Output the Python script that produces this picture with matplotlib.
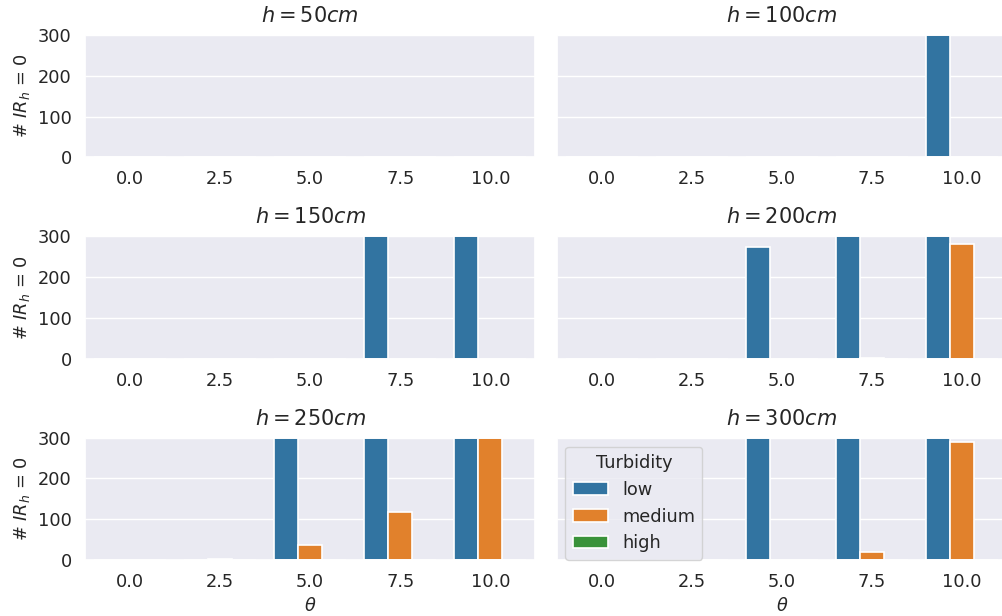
import matplotlib
matplotlib.use("Agg")
import matplotlib.pyplot as plt
import seaborn as sns
import pandas as pd

sns.set_theme(style="darkgrid")

thetas = ["0.0", "2.5", "5.0", "7.5", "10.0"]
turbidity = ["low", "medium", "high"]
heights = [50, 100, 150, 200, 250, 300]

# counts per height: rows = turbidity (low, medium, high), cols = theta
counts_50 = [[0, 0, 0, 0, 0], [0, 0, 0, 0, 0], [0, 0, 0, 0, 0]]
counts_100 = [[0, 0, 0, 0, 300], [0, 0, 0, 0, 0], [0, 0, 0, 0, 0]]
counts_150 = [[0, 0, 0, 300, 300], [0, 0, 0, 0, 0], [0, 0, 0, 0, 0]]
counts_200 = [[0, 0, 275, 300, 300], [0, 0, 0, 1, 282], [0, 0, 0, 0, 0]]
counts_250 = [[0, 0, 300, 300, 300], [0, 2, 37, 117, 300], [0, 0, 0, 0, 0]]
counts_300 = [[0, 0, 300, 300, 300], [0, 0, 0, 20, 289], [0, 0, 0, 0, 0]]
all_counts = [counts_50, counts_100, counts_150, counts_200, counts_250, counts_300]

fig, axes = plt.subplots(3, 2, figsize=(10.02, 6.16), dpi=100, sharey=True)
fig.subplots_adjust(left=0.0848, right=1.005, top=0.9432, bottom=0.0909,
                    wspace=0.0467, hspace=0.647)

palette = sns.color_palette("tab10")[:3]
FS = 12.8

for i, (h, counts) in enumerate(zip(heights, all_counts)):
    ax = axes.flat[i]
    rows = []
    for ti, t in enumerate(turbidity):
        for ci, th in enumerate(thetas):
            rows.append({"theta": th, "Turbidity": t, "count": counts[ti][ci]})
    df = pd.DataFrame(rows)
    sns.barplot(data=df, x="theta", y="count", hue="Turbidity",
                order=thetas, hue_order=turbidity, palette=palette,
                ax=ax, legend=(i == 5), edgecolor="white", linewidth=1.2)
    ax.set_ylim(0, 300)
    ax.set_yticks([0, 100, 200, 300])
    ax.set_title(f"$h = {h}cm$", fontsize=15, pad=9.5)
    ax.tick_params(labelsize=FS)
    if i % 2 == 0:
        ax.set_ylabel("# $IR_h$ = 0", fontsize=FS)
    else:
        ax.set_ylabel("")
    if i >= 4:
        ax.set_xlabel(r"$\theta$", fontsize=FS)
    else:
        ax.set_xlabel("")

leg = axes.flat[5].get_legend()
axes.flat[5].legend(handles=leg.legend_handles, labels=turbidity,
                    title="Turbidity", loc="upper left", fontsize=FS,
                    title_fontsize=FS)

fig.savefig("out.png", dpi=100)
